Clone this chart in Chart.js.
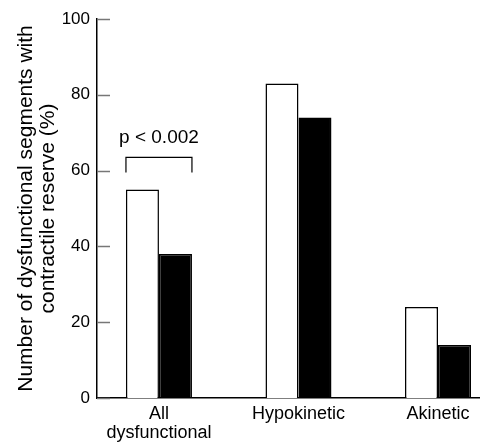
<!DOCTYPE html>
<html>
<head>
<meta charset="utf-8">
<script src="https://cdn.jsdelivr.net/npm/chart.js@4.4.0/dist/chart.umd.min.js"></script>
<style>
html, body { margin: 0; padding: 0; background: #fff; }
#wrap { width: 480px; height: 443px; }
</style>
</head>
<body>
<div id="wrap"><canvas id="chart" width="480" height="443"></canvas></div>
<script>
// Данные графика
const categories = [["All", "dysfunctional"], "Hypokinetic", "Akinetic"];
const openBars = [55, 83, 24];
const filledBars = [38, 74, 14];
const yTicks = [0, 20, 40, 60, 80, 100];
const yTitle = ["Number of dysfunctional segments with", "contractile reserve (%)"];

// Скобка со значимостью над первой группой
const pLabel = "p < 0.002";
const bracketTop = 63.5;
const bracketLeg = 59.5;
const pLabelLevel = 68.7;

const SANS = "'Liberation Sans', Arial, Helvetica, sans-serif";

// Засечки оси Y внутрь и скобка p
const extrasPlugin = {
    id: "extras",
    afterDraw(chart) {
        const ctx = chart.ctx;
        const yScale = chart.scales.y;
        const area = chart.chartArea;
        ctx.save();
        ctx.strokeStyle = "#777";
        ctx.lineWidth = 1.5;
        yTicks.forEach(v => {
            const y = Math.round(yScale.getPixelForValue(v)) + 0.5;
            ctx.beginPath();
            ctx.moveTo(area.left, y);
            ctx.lineTo(area.left + 13, y);
            ctx.stroke();
        });

        const b0 = chart.getDatasetMeta(0).data[0];
        const b1 = chart.getDatasetMeta(1).data[0];
        const x0 = b0.x - b0.width / 2;
        const x1 = b1.x + b1.width / 2;
        const yt = yScale.getPixelForValue(bracketTop);
        const yl = yScale.getPixelForValue(bracketLeg);
        ctx.strokeStyle = "#000";
        ctx.lineWidth = 1.2;
        ctx.beginPath();
        ctx.moveTo(x0, yl);
        ctx.lineTo(x0, yt);
        ctx.lineTo(x1, yt);
        ctx.lineTo(x1, yl);
        ctx.stroke();

        ctx.fillStyle = "#000";
        ctx.font = "19px " + SANS;
        ctx.textAlign = "center";
        ctx.textBaseline = "middle";
        ctx.fillText(pLabel, (x0 + x1) / 2, yScale.getPixelForValue(pLabelLevel));
        ctx.restore();
    }
};

const chart = new Chart(document.getElementById("chart"), {
    type: "bar",
    data: {
        datasets: [
            {
                data: openBars.map((v, i) => ({ x: i, y: v })),
                backgroundColor: "#fff",
                borderColor: "#000",
                borderWidth: 1.5,
                borderSkipped: "bottom"
            },
            {
                data: filledBars.map((v, i) => ({ x: i, y: v })),
                backgroundColor: "#000",
                borderColor: "#000",
                borderWidth: 1.5,
                borderSkipped: "bottom"
            }
        ]
    },
    options: {
        responsive: false,
        animation: false,
        categoryPercentage: 0.473,
        barPercentage: 1,
        layout: { padding: { top: 19, right: 0, left: 0, bottom: 0 } },
        plugins: {
            legend: { display: false },
            tooltip: { enabled: false }
        },
        scales: {
            x: {
                type: "linear",
                offset: false,
                min: -0.444,
                max: 2.301,
                afterBuildTicks: scale => {
                    scale.ticks = categories.map((c, i) => ({ value: i }));
                },
                afterFit: scale => { scale.height = 45; },
                grid: { display: false, drawTicks: false, offset: false },
                border: { display: true, color: "#000", width: 1.5 },
                ticks: {
                    color: "#000",
                    padding: 7,
                    maxRotation: 0,
                    autoSkip: false,
                    font: { size: 18, family: SANS, lineHeight: 1.05 },
                    callback: value => categories[value]
                }
            },
            y: {
                min: 0,
                max: 100,
                afterBuildTicks: scale => {
                    scale.ticks = yTicks.map(v => ({ value: v }));
                },
                afterFit: scale => { scale.width = 97; },
                grid: { display: false, drawTicks: false },
                border: { display: true, color: "#000", width: 1.5 },
                ticks: {
                    color: "#000",
                    padding: 7,
                    font: { size: 17, family: SANS }
                },
                title: {
                    display: true,
                    text: yTitle,
                    color: "#000",
                    font: { size: 21, family: SANS, lineHeight: 1.05 },
                    padding: { top: 15, bottom: 0 }
                }
            }
        }
    },
    plugins: [extrasPlugin]
});
</script>
</body>
</html>
